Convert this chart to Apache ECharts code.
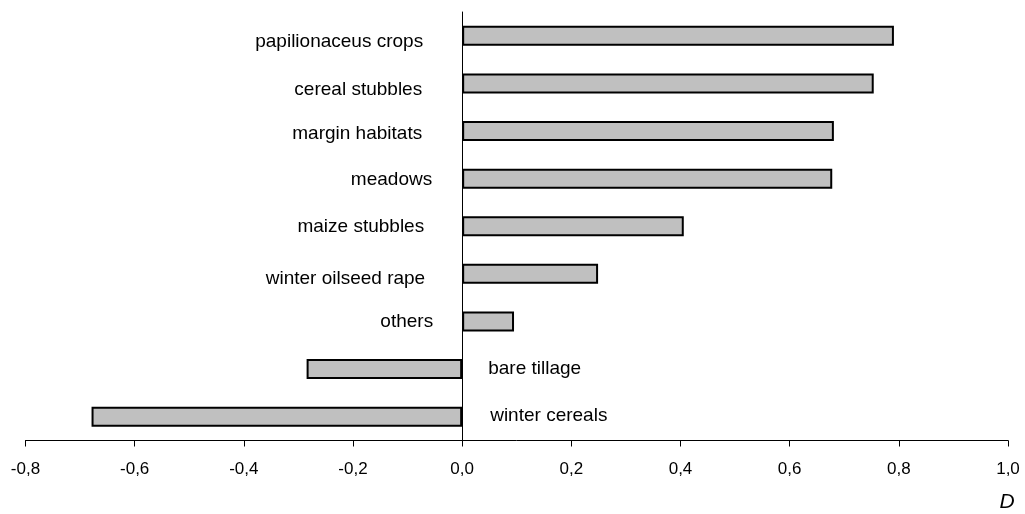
<!DOCTYPE html>
<html>
<head>
<meta charset="utf-8">
<script src="https://cdn.jsdelivr.net/npm/echarts@6/dist/echarts.min.js"></script>
<style>
html,body{margin:0;padding:0;background:#fff;}
#chart{width:1025px;height:514px;}
</style>
</head>
<body>
<div id="chart"></div>
<script>
// ---- data ----
var categories = ['papilionaceus crops','cereal stubbles','margin habitats','meadows','maize stubbles','winter oilseed rape','others','bare tillage','winter cereals'];
var values = [0.791, 0.754, 0.681, 0.678, 0.406, 0.249, 0.095, -0.285, -0.679];
var xTicks = {min: -0.8, max: 1.0, interval: 0.2};
var axisTitle = 'D';

// ---- label layout (styling only) ----
var labelDistance = [39, 40, 40, 30, 38, 37, 29, 26, 28];
var labelNudgeY = [6, 6, 2.5, 1.5, 0.5, 5, 0, 0, -1];

var FONT = '"Liberation Sans", Arial, sans-serif';

var seriesData = values.map(function (v, i) {
  return {
    value: v,
    label: {
      position: v >= 0 ? 'left' : 'right',
      distance: labelDistance[i],
      offset: [0, labelNudgeY[i]]
    }
  };
});

var chart = echarts.init(document.getElementById('chart'), null, {renderer: 'canvas'});
chart.setOption({
  backgroundColor: '#fff',
  animation: false,
  grid: {left: 25.5, right: 17, top: 12, bottom: 73.5},
  xAxis: {
    type: 'value',
    min: xTicks.min, max: xTicks.max, interval: xTicks.interval,
    axisLine: {show: true, onZero: false, lineStyle: {color: '#000', width: 1}},
    axisTick: {show: true, length: 6, inside: false, lineStyle: {color: '#000', width: 1}},
    splitLine: {show: false},
    axisLabel: {
      color: '#000', fontFamily: FONT, fontSize: 17, margin: 20,
      formatter: function (v) { return (Math.round(v * 10) / 10).toFixed(1).replace('.', ','); }
    }
  },
  yAxis: {
    type: 'category',
    data: categories,
    inverse: true,
    axisLine: {show: true, onZero: true, lineStyle: {color: '#000', width: 1}},
    axisTick: {show: false},
    axisLabel: {show: false},
    splitLine: {show: false}
  },
  series: [{
    type: 'bar',
    data: seriesData,
    barWidth: 20,
    itemStyle: {color: '#C0C0C0', borderColor: '#000', borderWidth: 2},
    label: {
      show: true,
      color: '#000',
      fontFamily: FONT,
      fontSize: 19,
      formatter: function (p) { return p.name; }
    }
  }],
  graphic: [{
    type: 'text',
    x: 1007, y: 502,
    style: {
      text: axisTitle,
      fill: '#000',
      font: 'italic 21px "Liberation Sans", Arial, sans-serif',
      align: 'center',
      verticalAlign: 'middle'
    }
  }]
});
</script>
</body>
</html>
